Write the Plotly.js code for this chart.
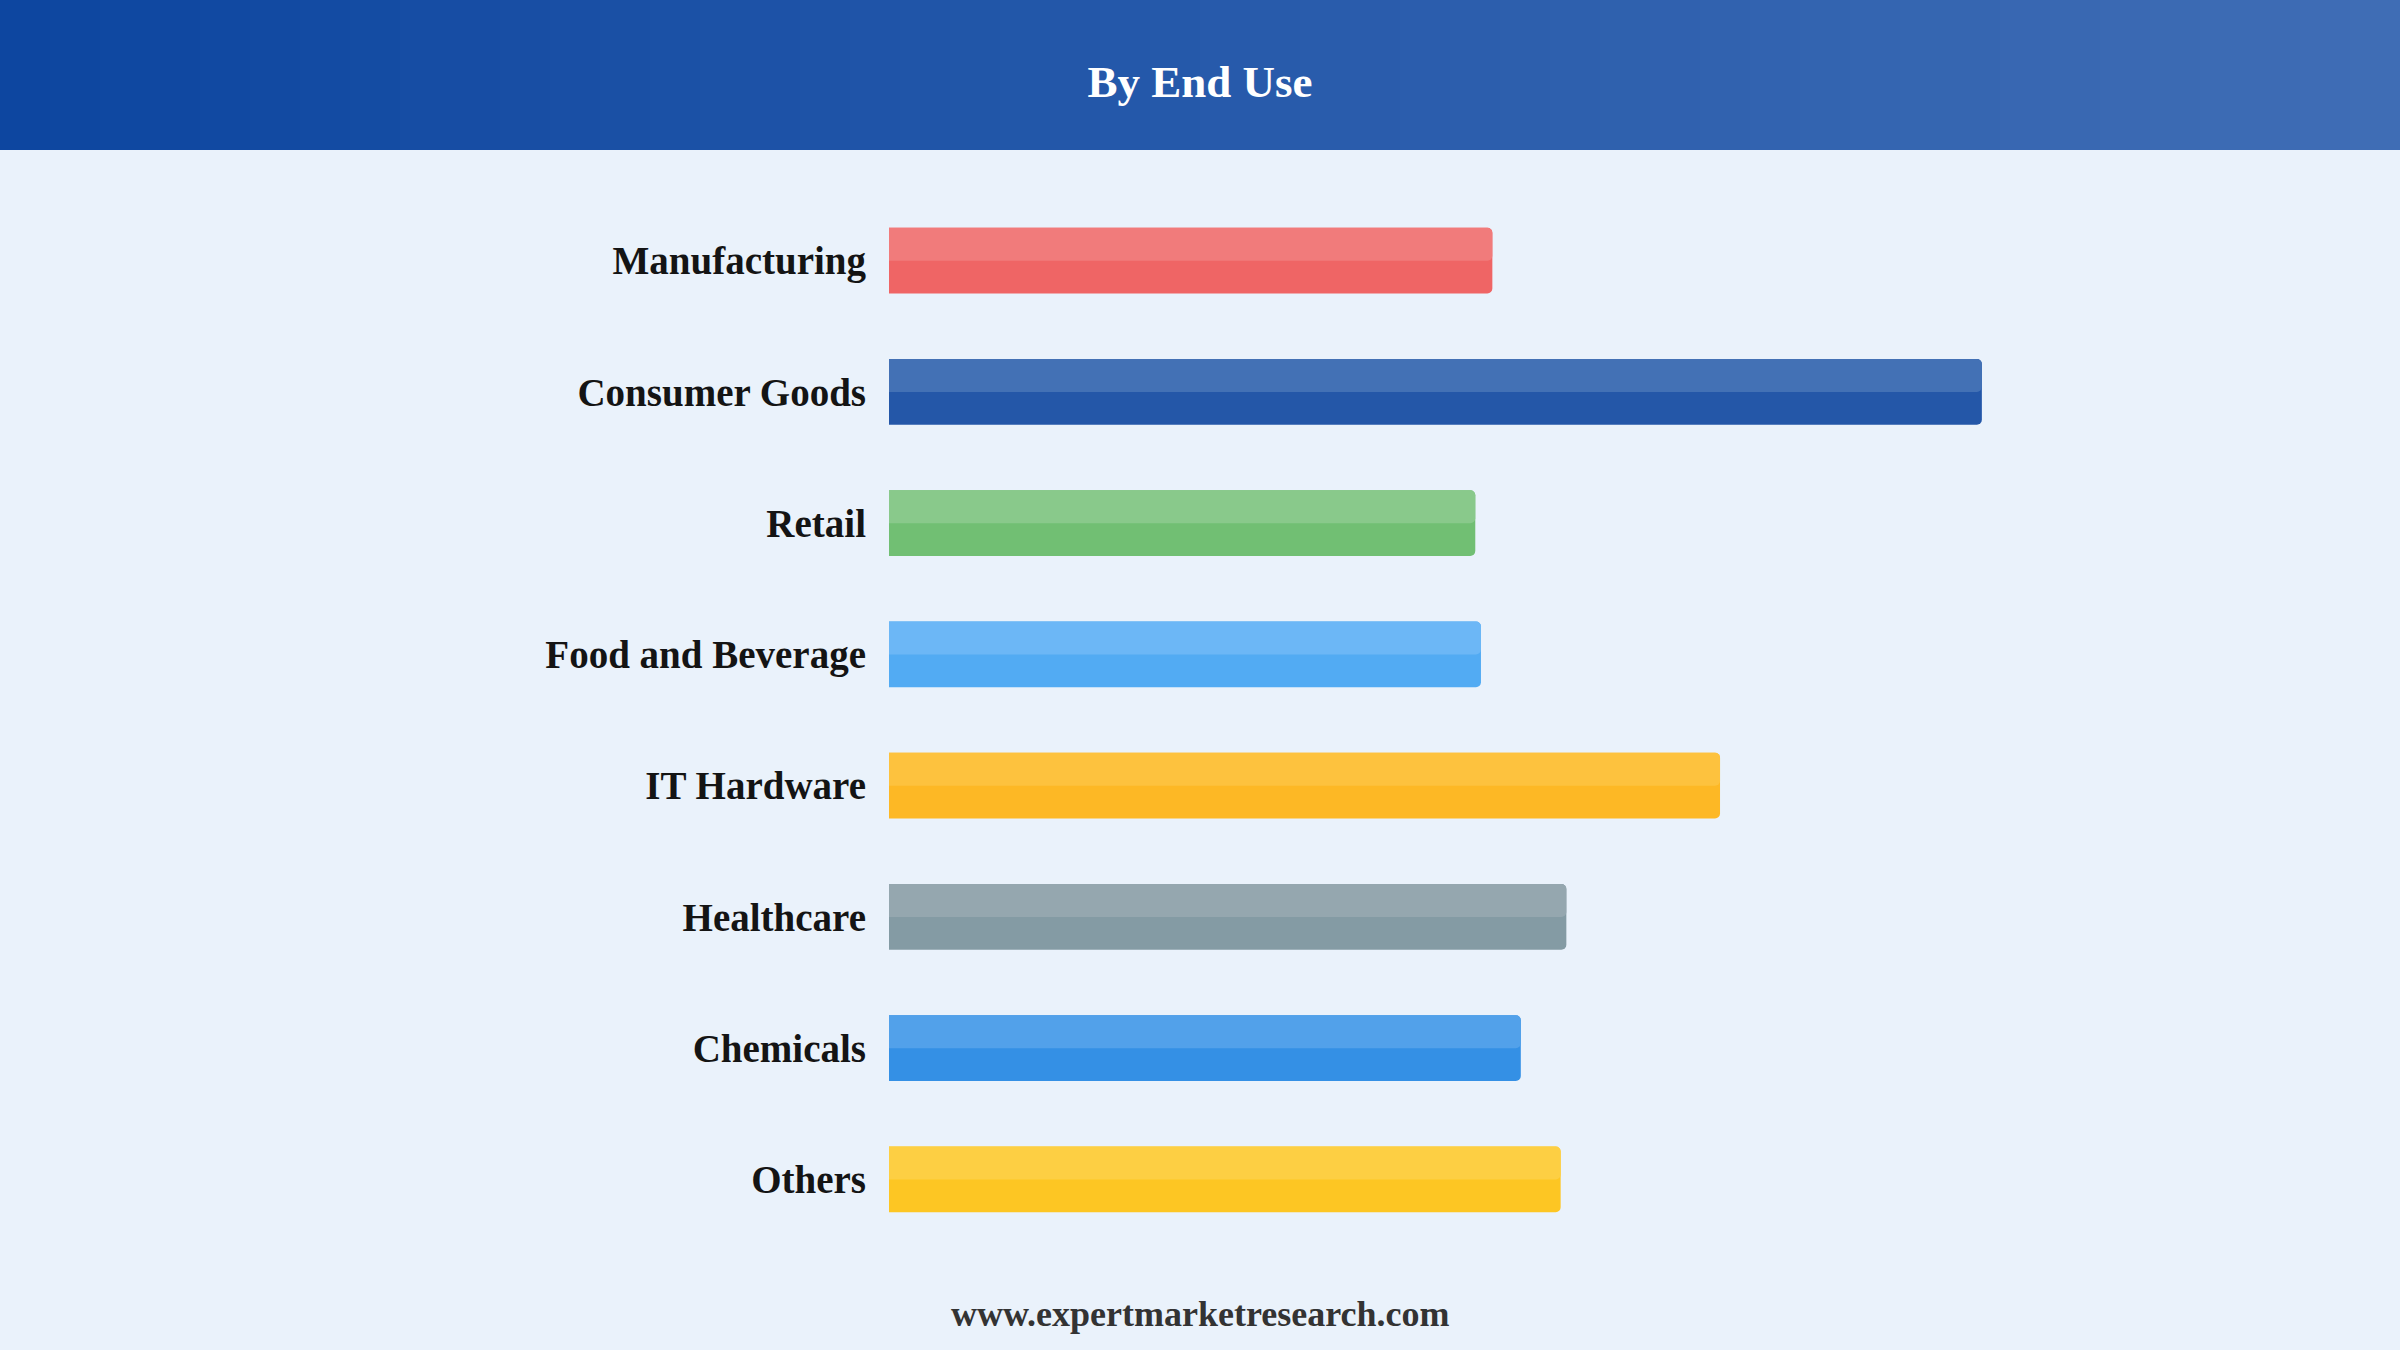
<!DOCTYPE html>
<html>
<head>
<meta charset="utf-8">
<script src="https://cdn.plot.ly/plotly-3.0.1.min.js"></script>
<style>
  html, body { margin: 0; padding: 0; background: #EAF2FB; }
  #chart { width: 2400px; height: 1350px; }
</style>
</head>
<body>
<div id="chart"></div>
<script>
// ---- data ----
const categories = ["Manufacturing", "Consumer Goods", "Retail", "Food and Beverage", "IT Hardware", "Healthcare", "Chemicals", "Others"];
const values = [10.6, 19.2, 10.3, 10.4, 14.6, 11.9, 11.1, 11.8];
const baseColors = ["#EF6565", "#2457A8", "#71BF73", "#52ABF3", "#FDB825", "#849BA4", "#3490E5", "#FDC623"];
const topColors  = ["#F17B7B", "#4371B5", "#89C98B", "#6CB7F6", "#FDC23E", "#95A7AF", "#52A1EA", "#FDCF43"];
const chartTitle = "By End Use";
const footerText = "www.expertmarketresearch.com";

// ---- layout geometry ----
const W = 2400, H = 1350;
const M = {l: 889, r: 88, t: 195, b: 105};
const plotW = W - M.l - M.r, plotH = H - M.t - M.b;
const px2x = px => (px - M.l) / plotW;
const py2y = py => (H - M.b - py) / plotH;

const serif = "Liberation Serif, Times New Roman, serif";

// header gradient bands
const shapes = [];
const steps = 48;
const c0 = [13, 70, 160], c1 = [63, 109, 181];
for (let i = 0; i < steps; i++) {
  const t = i / (steps - 1);
  const c = c0.map((v, k) => Math.round(v + (c1[k] - v) * t));
  shapes.push({
    type: "rect", xref: "paper", yref: "paper", layer: "below",
    x0: px2x(i * W / steps), x1: px2x((i + 1) * W / steps + 1),
    y0: py2y(150), y1: py2y(0),
    fillcolor: `rgb(${c[0]},${c[1]},${c[2]})`, line: {width: 0}
  });
}

const traces = [
  {
    type: "bar", orientation: "h", y: categories, x: values,
    width: 0.5,
    marker: {color: baseColors, cornerradius: 5, line: {width: 0}},
    hoverinfo: "x+y", showlegend: false
  },
  {
    type: "bar", orientation: "h", y: categories, x: values,
    width: 0.25, offset: -0.25,
    marker: {color: topColors, cornerradius: 5, line: {width: 0}},
    hoverinfo: "skip", showlegend: false
  }
];

const layout = {
  width: W, height: H,
  margin: M,
  paper_bgcolor: "#EAF2FB",
  plot_bgcolor: "rgba(0,0,0,0)",
  barmode: "overlay",
  bargap: 0.5,
  title: {
    text: chartTitle,
    x: 0.5, xref: "container", xanchor: "center",
    y: 1 - 81 / H, yref: "container", yanchor: "middle",
    font: {family: serif, size: 45, color: "#FFFFFF", weight: "bold"}
  },
  xaxis: {
    range: [0, 25], visible: false, fixedrange: true
  },
  yaxis: {
    type: "category", autorange: "reversed",
    showgrid: false, zeroline: false, showline: false, ticks: "",
    ticklabelstandoff: 22,
    tickfont: {family: serif, size: 39, color: "#141414", weight: "bold"},
    fixedrange: true
  },
  shapes: shapes,
  annotations: [{
    text: footerText, showarrow: false,
    xref: "paper", yref: "paper",
    x: px2x(W / 2), y: py2y(1314), xanchor: "center", yanchor: "middle",
    font: {family: serif, size: 36, color: "#333333", weight: "bold"}
  }]
};

Plotly.newPlot("chart", traces, layout, {displayModeBar: false, staticPlot: true});
</script>
</body>
</html>
